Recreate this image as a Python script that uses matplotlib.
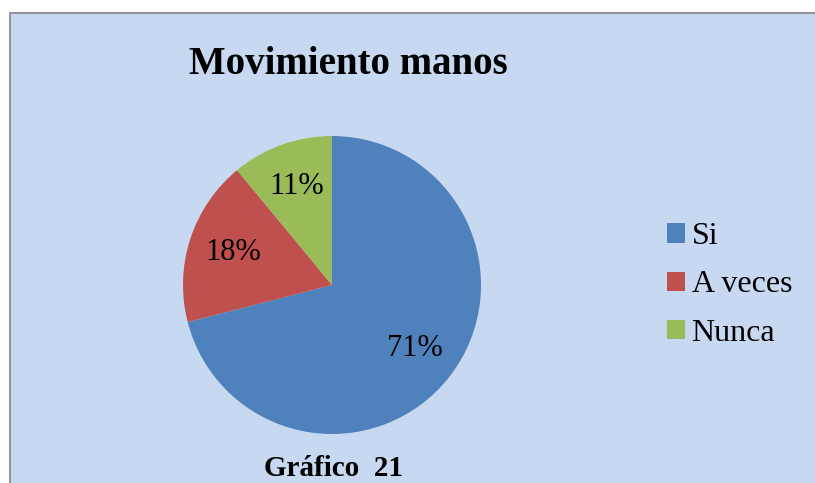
import matplotlib.pyplot as plt
from matplotlib.patches import Rectangle, Patch

# Daten
categorias = ["Si", "A veces", "Nunca"]
valores = [71, 18, 11]
colores = ["#4F81BD", "#C0504D", "#9BBB59"]

plt.rcParams['font.family'] = ['Liberation Serif', 'DejaVu Serif']

W, H = 815, 483
fig = plt.figure(figsize=(W / 100, H / 100), dpi=100)
fig.patch.set_facecolor("white")

# Hintergrund mit Rahmen
fig.patches.append(Rectangle((10 / W, -0.05), 1.0, 1 - 13 / H + 0.05, transform=fig.transFigure,
                             facecolor="#C6D9F1", edgecolor="#8C8C8C", linewidth=1.3, zorder=-5))

# Kreisdiagramm
cx, cy, r = 332, H - 285, 149
ax = fig.add_axes([(cx - r) / W, (cy - r) / H, 2 * r / W, 2 * r / H])
ax.set_zorder(2)
wedges, texts, autotexts = ax.pie(valores, colors=colores, startangle=90, counterclock=False,
                                  autopct="%d%%", pctdistance=0.7,
                                  textprops={"fontsize": 22, "color": "black"})
ax.set_xlim(-1, 1)
ax.set_ylim(-1, 1)
ax.axis("off")

fig.text(348 / W, 1 - 65 / H, "Movimiento manos", fontsize=28, fontweight="bold",
         ha="center", va="center")
fig.text(333 / W, 1 - 468 / H, "Gráfico  21", fontsize=21, fontweight="bold",
         ha="center", va="center")

handles = [Patch(facecolor=c, label=k) for c, k in zip(colores, categorias)]
fig.legend(handles=handles, loc="center left", bbox_to_anchor=(667 / W, 1 - 285 / H),
           frameon=False, fontsize=23, handlelength=0.55, handleheight=0.55,
           handletextpad=0.22, labelspacing=0.6, borderpad=0, borderaxespad=0)

fig.savefig("out.png", dpi=100)
